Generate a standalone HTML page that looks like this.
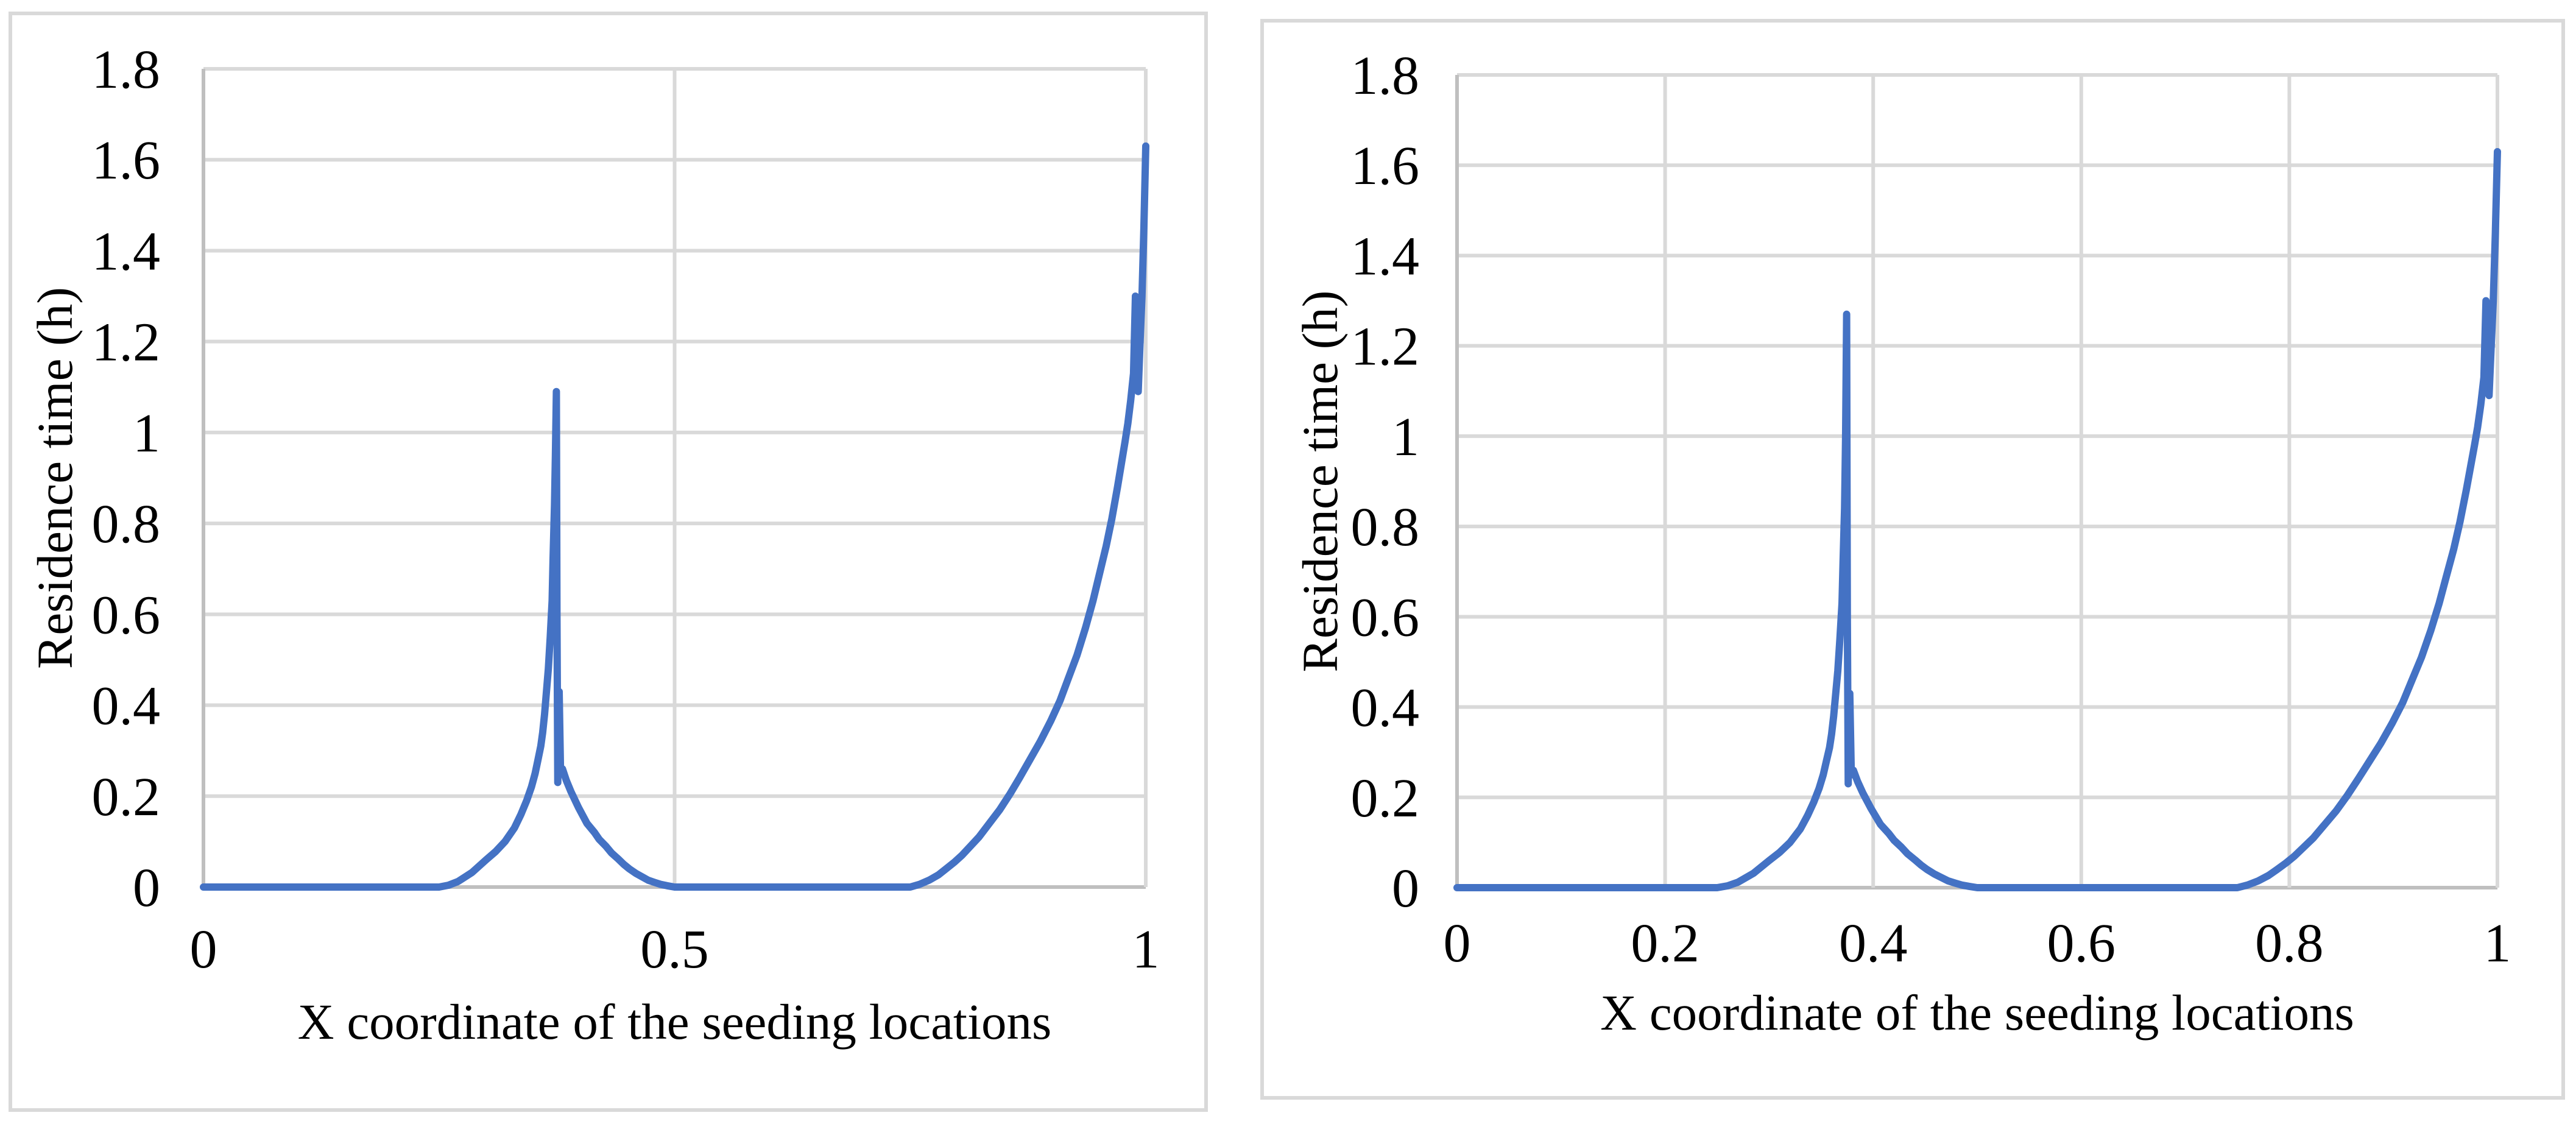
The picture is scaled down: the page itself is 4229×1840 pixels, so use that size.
<!DOCTYPE html>
<html><head><meta charset="utf-8"><style>
html,body{margin:0;padding:0;background:#fff;}
svg{display:block;}
</style></head><body>
<svg id="chart" width="4229" height="1840" viewBox="0 0 4229 1840" xmlns="http://www.w3.org/2000/svg" font-family="'Liberation Serif', 'Times New Roman', serif"></svg>
<script>
const xsA = [0,0.1,0.2,0.25,0.26,0.27,0.285,0.3,0.31,0.32,0.33,0.337,0.343,0.348,0.352,0.355,0.358,0.36,0.362,0.364,0.366,0.368,0.37,0.371,0.3725,0.3735,0.3745,0.3752,0.376,0.3775,0.379,0.381,0.385,0.39,0.398,0.407,0.415,0.42,0.427,0.433,0.44,0.446,0.452,0.459,0.466,0.472,0.479,0.485,0.492,0.5,0.6,0.7,0.75,0.76,0.77,0.78,0.788,0.797,0.805,0.814,0.823,0.834,0.845,0.856,0.866,0.877,0.888,0.899,0.909,0.918,0.927,0.936,0.944,0.951,0.958,0.964,0.97,0.974,0.978,0.981,0.984,0.987,0.989,0.9905,0.992,0.994,0.996,0.998,1.0];
const ysA = [0,0,0,0,0.004,0.012,0.032,0.06,0.078,0.1,0.13,0.16,0.19,0.22,0.25,0.28,0.31,0.34,0.38,0.43,0.48,0.55,0.63,0.72,0.84,0.95,1.09,0.6,0.23,0.43,0.25,0.26,0.235,0.21,0.175,0.14,0.12,0.105,0.09,0.075,0.062,0.05,0.04,0.03,0.022,0.015,0.01,0.006,0.003,0,0,0,0,0.006,0.015,0.027,0.04,0.055,0.07,0.09,0.11,0.14,0.17,0.205,0.24,0.28,0.32,0.365,0.41,0.46,0.51,0.57,0.63,0.69,0.75,0.81,0.88,0.93,0.98,1.02,1.07,1.13,1.3,1.1,1.09,1.2,1.3,1.45,1.63];
const xsB = xsA;
const ysB = [0,0,0,0,0.004,0.012,0.032,0.06,0.078,0.1,0.13,0.16,0.19,0.22,0.25,0.28,0.31,0.34,0.38,0.43,0.48,0.55,0.63,0.72,0.84,1.0,1.27,0.6,0.23,0.43,0.25,0.26,0.235,0.21,0.175,0.14,0.12,0.105,0.09,0.075,0.062,0.05,0.04,0.03,0.022,0.015,0.01,0.006,0.003,0,0,0,0,0.006,0.015,0.027,0.04,0.055,0.07,0.09,0.11,0.14,0.17,0.205,0.24,0.28,0.32,0.365,0.41,0.46,0.51,0.57,0.63,0.69,0.75,0.81,0.88,0.93,0.98,1.02,1.07,1.13,1.3,1.1,1.09,1.2,1.3,1.45,1.63];
const yTicks = [0,0.2,0.4,0.6,0.8,1,1.2,1.4,1.6,1.8];
const yTickLabels = ["0","0.2","0.4","0.6","0.8","1","1.2","1.4","1.6","1.8"];
const xTicksA = [0,0.5,1];
const xTickLabelsA = ["0","0.5","1"];
const xTicksB = [0,0.2,0.4,0.6,0.8,1];
const xTickLabelsB = ["0","0.2","0.4","0.6","0.8","1"];

const NS="http://www.w3.org/2000/svg";
const svg=document.getElementById('chart');
const FF="'Liberation Serif', 'Times New Roman', serif";
function mk(tag,attrs,parent){const e=document.createElementNS(NS,tag);for(const k in attrs)e.setAttribute(k,attrs[k]);(parent||svg).appendChild(e);return e;}

function drawChart(cfg,xs,ys,xt,xtl,id){
  const g=mk('g',{});
  
  
  const fr=mk('rect',{x:cfg.fx,y:cfg.fy,width:cfg.fw,height:cfg.fh,fill:'#fff',stroke:'#d9d9d9','stroke-width':6},g);
  
  
  const sx=v=>cfg.x0+(cfg.x1-cfg.x0)*v;
  const sy=v=>cfg.y0-(cfg.y0-cfg.yTop)*v/1.8;
  yTicks.forEach((t,i)=>{
    const l=mk('line',{x1:cfg.x0,x2:cfg.x1,y1:sy(t),y2:sy(t),stroke:i===0?'#bfbfbf':'#d9d9d9','stroke-width':6},g);
    
    
    const tx=mk('text',{x:cfg.ylx,y:sy(t)+31,'text-anchor':'end','font-size':90,'font-family':FF},g);
    tx.textContent=yTickLabels[i];
    
    
  });
  xt.forEach((t,i)=>{
    const l=mk('line',{x1:sx(t),x2:sx(t),y1:cfg.yTop,y2:cfg.y0,stroke:i===0?'#bfbfbf':'#d9d9d9','stroke-width':6},g);
    
    
    const tx=mk('text',{x:sx(t),y:cfg.xly,'text-anchor':'middle','font-size':90,'font-family':FF},g);
    tx.textContent=xtl[i];
    
    
  });
  const d=xs.map((x,i)=>(i?'L':'M')+sx(x).toFixed(1)+' '+sy(ys[i]).toFixed(1)).join(' ');
  const p=mk('path',{d:d,fill:'none',stroke:'#4472C4','stroke-width':12,'stroke-linejoin':'round','stroke-linecap':'round'},g);
  
  
  const xtitle=mk('text',{x:(cfg.x0+cfg.x1)/2,y:cfg.xty,'text-anchor':'middle','font-size':83,'font-family':FF},g);
  xtitle.textContent='X coordinate of the seeding locations';
  
  
  const cy=(cfg.y0+cfg.yTop)/2;
  const ytitle=mk('text',{x:cfg.ytx,y:cy,'text-anchor':'middle','font-size':83,'font-family':FF,transform:`rotate(-90 ${cfg.ytx} ${cy})`},g);
  ytitle.textContent='Residence time (h)';
  
  
}
drawChart({fx:17,fy:22,fw:1963,fh:1800,x0:334,x1:1881,y0:1456,yTop:113,ylx:263,xly:1588,xty:1705,ytx:118},xsA,ysA,xTicksA,xTickLabelsA,'left-chart');
drawChart({fx:2072,fy:34,fw:2136,fh:1768,x0:2392,x1:4100,y0:1457,yTop:123,ylx:2330,xly:1578,xty:1690,ytx:2195},xsB,ysB,xTicksB,xTickLabelsB,'right-chart');
</script>
</body></html>
